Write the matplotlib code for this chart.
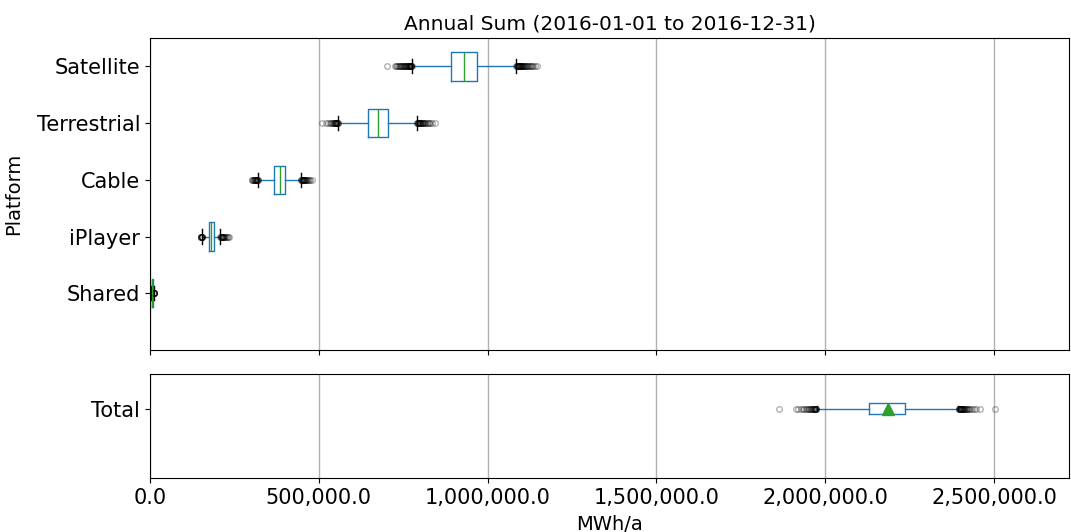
import matplotlib.pyplot as plt
from matplotlib.ticker import FuncFormatter

# platforms, bottom to top (values in thousand MWh/a)
platforms = ['Shared', 'iPlayer', 'Cable', 'Terrestrial', 'Satellite']
q1 = [5.5, 176, 368, 646, 891]
med = [6.5, 182, 385, 674, 930]
q3 = [7.5, 190, 401, 704, 969]
whislo = [3.5, 155, 321, 557, 775]
whishi = [10.5, 207, 446, 790, 1084]

shared_fliers = [2.5, 3.0, 11.0, 11.2, 11.5, 11.7, 12.0, 12.2, 12.5, 13.0]
iplayer_fliers = [150, 151, 151, 152, 152, 153, 153, 154, 154,
                  208, 209, 210, 211, 212, 213, 214, 215, 216, 217, 218, 220, 222, 224, 227, 230, 235]
cable_fliers = [301, 303, 305, 307, 309, 310, 311, 312, 313, 314, 315, 316, 317, 318, 319, 320,
                447, 448, 449, 450, 451, 452, 453, 454, 455, 456, 457, 458, 460, 461, 463,
                465, 467, 470, 474, 479]
terr_fliers = [509, 521, 528, 533, 537, 540, 542, 544, 546, 547, 548, 549, 550, 551, 552,
               553, 554, 555, 556, 556,
               791, 792, 793, 794, 795, 796, 797, 798, 799, 800, 801, 802, 803, 805, 806,
               808, 810, 812, 814, 816, 819, 822, 826, 830, 835, 844]
sat_fliers = [703, 726, 729, 732, 735, 737, 739, 741, 743, 745, 747, 749, 751, 753, 754, 756,
              757, 759, 760, 762, 763, 764, 766, 767, 768, 769, 770, 771, 772, 773, 774, 774, 775,
              1085, 1086, 1087, 1088, 1089, 1090, 1091, 1092, 1093, 1094, 1095, 1096, 1097,
              1098, 1099, 1100, 1101, 1103, 1104, 1106, 1107, 1109, 1111, 1113, 1115, 1117,
              1119, 1122, 1125, 1128, 1131, 1135, 1140, 1147]
fliers = [shared_fliers, iplayer_fliers, cable_fliers, terr_fliers, sat_fliers]

# total over all platforms
total_q1 = 2131
total_med = 2185
total_q3 = 2237
total_mean = 2185
total_whislo = 1975
total_whishi = 2394
total_fliers = [1864, 1913, 1920, 1927, 1933, 1938, 1942, 1946, 1949, 1952, 1955, 1957, 1959,
                1961, 1963, 1965, 1966, 1968, 1969, 1970, 1971, 1972, 1973, 1974,
                2395, 2396, 2397, 2398, 2399, 2400, 2401, 2402, 2403, 2404, 2405, 2406, 2407,
                2408, 2409, 2410, 2412, 2414, 2416, 2418, 2420, 2423, 2426, 2430, 2435, 2441,
                2448, 2459, 2503]

blue = '#1f77b4'
green = '#2ca02c'
flierprops = dict(marker='o', markerfacecolor='none', markeredgecolor='k',
                  alpha=0.3, markersize=4, markeredgewidth=1)

fig = plt.figure(figsize=(10.71, 5.32), dpi=100)
ax1 = fig.add_axes([150/1071, 182/532, 919/1071, 312/532])
ax2 = fig.add_axes([150/1071, 54/532, 919/1071, 104/532], sharex=ax1)

stats = []
for i in range(len(platforms)):
    stats.append(dict(label=platforms[i], q1=q1[i]*1000, med=med[i]*1000, q3=q3[i]*1000,
                      whislo=whislo[i]*1000, whishi=whishi[i]*1000,
                      fliers=[f*1000 for f in fliers[i]]))
ax1.bxp(stats, positions=range(1, 6), widths=0.5, vert=False,
        boxprops=dict(color=blue), whiskerprops=dict(color=blue),
        medianprops=dict(color=green), capprops=dict(color='k'),
        flierprops=flierprops)
ax1.set_ylim(0, 5.5)
ax1.set_ylabel('Platform', fontsize=14, labelpad=10)
ax1.set_title('Annual Sum (2016-01-01 to 2016-12-31)', fontsize=14.5)
ax1.tick_params(axis='y', labelsize=15)
ax1.tick_params(axis='x', labelbottom=False)
ax1.grid(axis='x', color='#b0b0b0', linewidth=1)
ax1.set_axisbelow(True)

tstats = [dict(label='Total', q1=total_q1*1000, med=total_med*1000, q3=total_q3*1000,
               mean=total_mean*1000, whislo=total_whislo*1000, whishi=total_whishi*1000,
               fliers=[f*1000 for f in total_fliers])]
ax2.bxp(tstats, positions=[1], widths=0.16, vert=False, showmeans=True,
        boxprops=dict(color=blue), whiskerprops=dict(color=blue),
        medianprops=dict(color=green), capprops=dict(color='k'),
        meanprops=dict(marker='^', markerfacecolor=green, markeredgecolor=green, markersize=8),
        flierprops=flierprops)
ax2.set_ylim(0, 1.5)
ax2.tick_params(axis='y', labelsize=15)
ax2.tick_params(axis='x', labelsize=15)
ax2.grid(axis='x', color='#b0b0b0', linewidth=1)
ax2.set_axisbelow(True)
ax2.set_xlabel('MWh/a', fontsize=14, labelpad=5)

ax2.set_xlim(0, 2722000)
ax2.set_xticks([0, 500000, 1000000, 1500000, 2000000, 2500000])
ax2.xaxis.set_major_formatter(FuncFormatter(lambda x, p: '{:,.1f}'.format(x)))

plt.savefig('out.png', dpi=100, facecolor='white')
